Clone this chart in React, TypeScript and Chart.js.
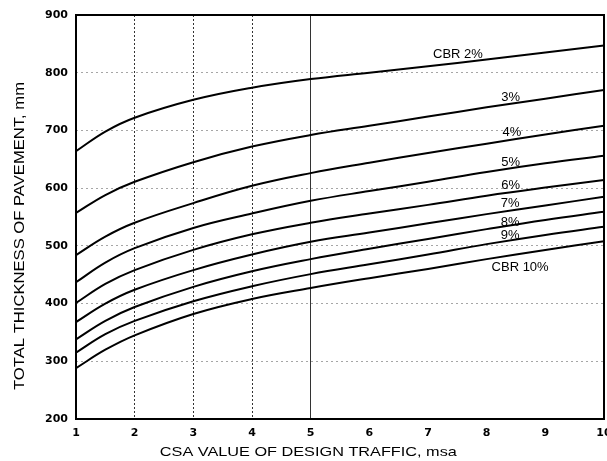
import React, { useEffect, useRef } from "react";
import { Chart, registerables } from "chart.js";

Chart.register(...registerables);

// CSA value of design traffic (msa)
const csa = [1, 1.5, 2, 3, 4, 5, 6, 7, 8, 9, 10];

// Total thickness of pavement (mm) for each CBR curve
const cbr2 = [664, 698, 722, 753, 774, 789, 800, 811, 823, 835, 847];
const cbr3 = [557, 588, 611, 645, 672, 692, 708, 724, 740, 755, 770];
const cbr4 = [484, 516, 540, 574, 604, 626, 644, 661, 677, 693, 708];
const cbr5 = [437, 471, 496, 531, 556, 578, 595, 611, 628, 643, 656];
const cbr6 = [401, 434, 458, 493, 520, 540, 556, 571, 587, 601, 614];
const cbr7 = [368, 400, 424, 458, 485, 507, 523, 539, 555, 570, 585];
const cbr8 = [338, 370, 394, 429, 456, 477, 495, 512, 529, 545, 559];
const cbr9 = [315, 347, 370, 404, 430, 451, 468, 485, 503, 519, 533];
const cbr10 = [288, 320, 345, 382, 408, 427, 444, 460, 477, 493, 508];

const seriesNames = ["CBR 2%", "CBR 3%", "CBR 4%", "CBR 5%", "CBR 6%", "CBR 7%", "CBR 8%", "CBR 9%", "CBR 10%"];
const seriesValues = [cbr2, cbr3, cbr4, cbr5, cbr6, cbr7, cbr8, cbr9, cbr10];

// Curve labels and where they sit (data units)
const labelText = ["CBR 2%", "3%", "4%", "5%", "6%", "7%", "8%", "9%", "CBR 10%"];
const labelX = [7.51, 8.41, 8.43, 8.41, 8.41, 8.4, 8.4, 8.4, 8.57];
const labelY = [832, 758, 696, 645, 605, 573, 541, 518, 463];

// Axis ticks / titles
const xMin = 1;
const xMax = 10;
const xStep = 1;
const yMin = 200;
const yMax = 900;
const yStep = 100;
const xGridShown = [2, 3, 4, 5];
const xTitle = "CSA VALUE OF DESIGN TRAFFIC, msa";
const yTitle = "TOTAL THICKNESS OF PAVEMENT, mm";

function drawStretched(
  ctx: CanvasRenderingContext2D,
  text: string,
  cx: number,
  cy: number,
  target: number,
  font: string,
  rot: number
) {
  ctx.save();
  ctx.translate(cx, cy);
  ctx.rotate(rot);
  ctx.font = font;
  const w = ctx.measureText(text).width;
  ctx.scale(target / w, 1);
  ctx.textAlign = "center";
  ctx.textBaseline = "middle";
  ctx.fillStyle = "#000";
  ctx.fillText(text, 0, 0);
  ctx.restore();
}

const decorPlugin = {
  id: "decor",
  afterDraw(chart: any) {
    const { ctx, chartArea: a, scales } = chart;
    ctx.save();
    ctx.strokeStyle = "#000";
    ctx.lineWidth = 2;
    ctx.strokeRect(a.left, a.top, a.right - a.left, a.bottom - a.top);

    ctx.fillStyle = "#000";
    ctx.font = '13px "Liberation Sans", Arial, sans-serif';
    ctx.textAlign = "center";
    ctx.textBaseline = "middle";
    labelText.forEach((t, i) => {
      ctx.fillText(t, scales.x.getPixelForValue(labelX[i]), scales.y.getPixelForValue(labelY[i]));
    });
    ctx.restore();

    const w = a.right - a.left;
    const h = a.bottom - a.top;
    drawStretched(ctx, xTitle, a.left + w * 0.44, chart.height - 9, 297, '13px "Liberation Sans", Arial, sans-serif', 0);
    drawStretched(ctx, yTitle, 20, a.top + h * 0.547, 308, '15px "Liberation Sans", Arial, sans-serif', -Math.PI / 2);
  },
};

export default function App() {
  const ref = useRef<HTMLCanvasElement>(null);

  useEffect(() => {
    if (!ref.current) return;
    const datasets = seriesValues.map((vals, si) => ({
      label: seriesNames[si],
      data: csa.map((x, i) => ({ x, y: vals[i] })),
      borderColor: "#000",
      backgroundColor: "#000",
      borderWidth: 2,
      pointRadius: 0,
      tension: 0.4,
      fill: false,
    }));

    const chart = new Chart(ref.current, {
      type: "line",
      data: { datasets },
      options: {
        responsive: false,
        animation: false,
        devicePixelRatio: 1,
        layout: { padding: { top: 15, right: 3, bottom: 0, left: 0 } },
        plugins: { legend: { display: false }, tooltip: { enabled: false } },
        scales: {
          x: {
            type: "linear",
            min: xMin,
            max: xMax,
            ticks: {
              stepSize: xStep,
              color: "#000",
              padding: 8,
              font: { family: '"DejaVu Sans"', size: 11, weight: "bold" },
            },
            grid: {
              drawTicks: false,
              lineWidth: 1,
              color: (c: any) => (c.tick && xGridShown.includes(c.tick.value) ? "#333" : "rgba(0,0,0,0)"),
            },
            border: {
              display: false,
              dash: (c: any) => (c.tick && c.tick.value === 5 ? [] : [2, 2]),
            },
            afterFit: (s: any) => {
              s.height = 42;
              s.paddingLeft = 0;
              s.paddingRight = 0;
            },
          },
          y: {
            min: yMin,
            max: yMax,
            ticks: {
              stepSize: yStep,
              color: "#000",
              padding: 8,
              font: { family: '"DejaVu Sans"', size: 11, weight: "bold" },
            },
            grid: {
              drawTicks: false,
              lineWidth: 1,
              color: "rgba(0,0,0,0.35)",
            },
            border: { display: false, dash: [2, 3] },
            afterFit: (s: any) => {
              s.width = 76;
              s.paddingTop = 0;
              s.paddingBottom = 0;
            },
          },
        },
      },
      plugins: [decorPlugin],
    });
    return () => chart.destroy();
  }, []);

  return (
    <canvas
      ref={ref}
      width={607}
      height={461}
      style={{ position: "absolute", left: 0, top: 0, display: "block", background: "#fff" }}
    />
  );
}
